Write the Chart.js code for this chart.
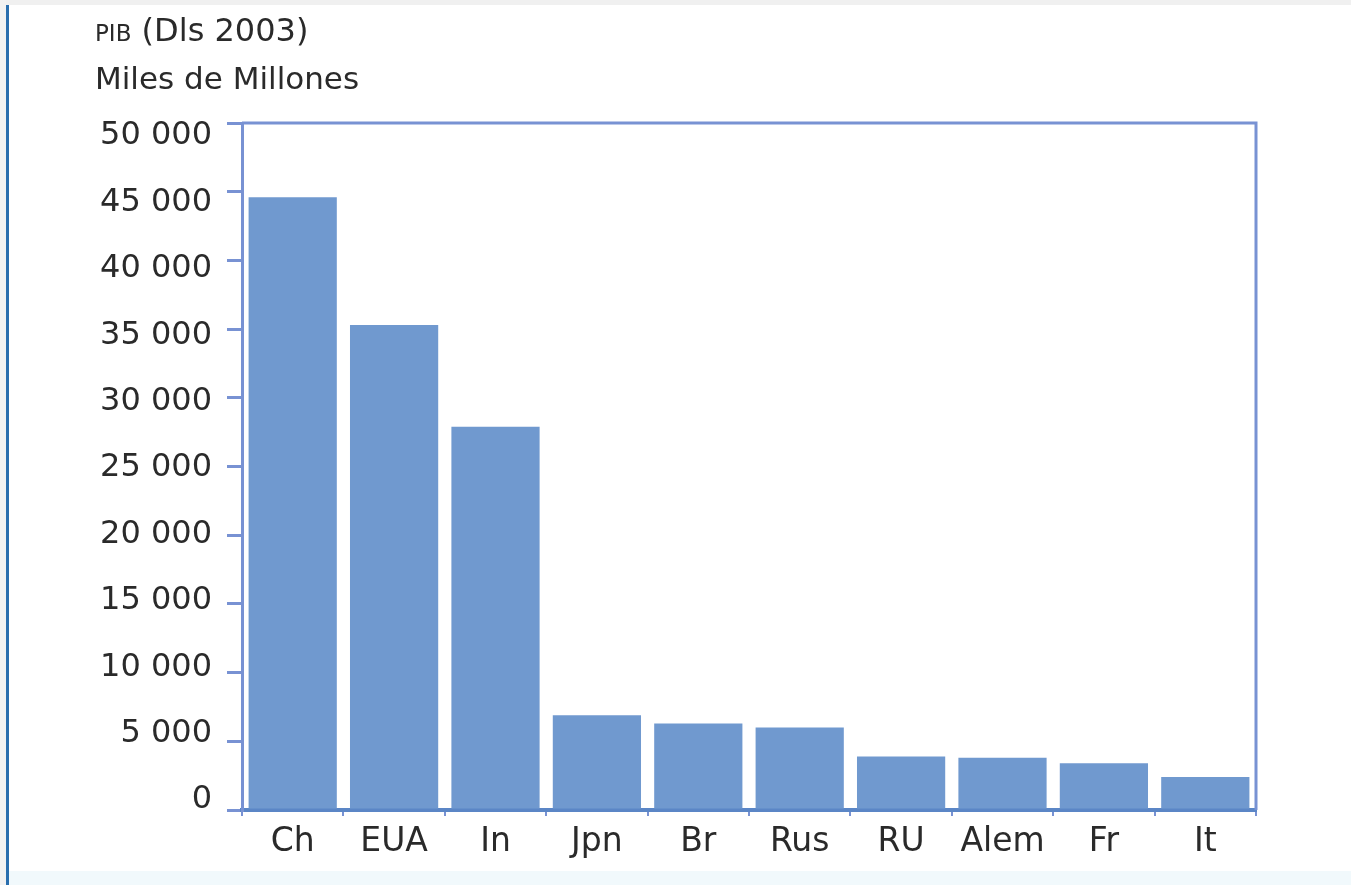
<!DOCTYPE html>
<html>
<head>
<meta charset="utf-8">
<script src="https://cdn.jsdelivr.net/npm/chart.js@4.4.1/dist/chart.umd.min.js"></script>
<style>
  html, body { margin: 0; padding: 0; background: #ffffff; }
  body { width: 1351px; height: 885px; position: relative; overflow: hidden; font-family: "DejaVu Sans", sans-serif; }
  #topband { position: absolute; left: 0; top: 0; width: 1351px; height: 5px; background: #f0f0f0; }
  #leftgray { position: absolute; left: 0; top: 0; width: 6px; height: 885px; background: #f2f2f2; }
  #leftline { position: absolute; left: 6px; top: 5px; width: 3px; height: 880px; background: #2a6eae; }
  #botband { position: absolute; left: 9px; top: 871px; width: 1342px; height: 14px; background: #f1f9fc; }
  #title { position: absolute; left: 95px; top: 8px; font-size: 31px; line-height: 45px; color: #2a2a2a; white-space: nowrap; }
  #title .l1 { font-size: 32px; }
  #title .sc { font-size: 23px; }
  #wrap { position: absolute; left: 0; top: 0; width: 1351px; height: 885px; }
</style>
</head>
<body>
<div id="topband"></div>
<div id="leftgray"></div>
<div id="leftline"></div>
<div id="botband"></div>
<div id="wrap"><canvas id="c" width="1351" height="885"></canvas></div>
<div id="title"><span class="l1"><span class="sc">PIB</span> (Dls 2003)</span><br>Miles de Millones</div>
<script>
// ---- data ----
const categories = ['Ch', 'EUA', 'In', 'Jpn', 'Br', 'Rus', 'RU', 'Alem', 'Fr', 'It'];
const gdpValues = [44600, 35300, 27900, 6900, 6300, 6000, 3900, 3800, 3400, 2400];
const yTickValues = [0, 5000, 10000, 15000, 20000, 25000, 30000, 35000, 40000, 45000, 50000];
const yTickLabels = ['0', '5 000', '10 000', '15 000', '20 000', '25 000', '30 000', '35 000', '40 000', '45 000', '50 000'];

const axisColor = '#7892d3';
const textColor = '#2a2a2a';
const fontFamily = '"DejaVu Sans", sans-serif';

const framePlugin = {
  id: 'frame',
  afterDatasetsDraw(chart) {
    const {ctx, chartArea} = chart;
    ctx.save();
    ctx.strokeStyle = axisColor;
    ctx.lineWidth = 3;
    ctx.beginPath();
    ctx.moveTo(chartArea.left, chartArea.top);
    ctx.lineTo(chartArea.right, chartArea.top);
    ctx.lineTo(chartArea.right, chartArea.bottom);
    ctx.stroke();
    ctx.restore();
  }
};

new Chart(document.getElementById('c'), {
  type: 'bar',
  data: {
    labels: categories,
    datasets: [{
      data: gdpValues,
      backgroundColor: '#7099cf',
      borderWidth: 0,
      barPercentage: 0.87,
      categoryPercentage: 1.0
    }]
  },
  options: {
    responsive: false,
    animation: false,
    events: [],
    layout: { padding: { left: 0, top: 123, right: 95, bottom: 0 } },
    plugins: { legend: { display: false }, tooltip: { enabled: false }, title: { display: false } },
    scales: {
      x: {
        type: 'category',
        position: 'bottom',
        z: 1,
        grid: { display: true, offset: true, drawOnChartArea: false, drawTicks: true, tickLength: 6, color: axisColor, lineWidth: 2 },
        border: { display: true, color: '#5b86c6', width: 4 },
        ticks: { color: textColor, font: { family: fontFamily, size: 33 }, padding: 7, maxRotation: 0, autoSkip: false },
        afterFit(scale) { scale.height = 75; }
      },
      y: {
        type: 'linear',
        position: 'left',
        weight: 0,
        z: 1,
        min: 0,
        max: 50000,
        afterBuildTicks(scale) { scale.ticks = yTickValues.map(v => ({ value: v })); },
        grid: { display: true, drawOnChartArea: false, drawTicks: true, tickLength: 15, color: axisColor, lineWidth: 3 },
        border: { display: true, color: axisColor, width: 3 },
        ticks: { display: false },
        afterFit(scale) { scale.width = 15; }
      },
      yLabels: {
        type: 'linear',
        position: 'left',
        weight: 1,
        min: -753,
        max: 50979,
        afterBuildTicks(scale) { scale.ticks = yTickValues.map(v => ({ value: v })); },
        grid: { display: false },
        border: { display: false },
        ticks: {
          color: textColor,
          font: { family: fontFamily, size: 32 },
          padding: 7,
          callback: (value) => yTickLabels[yTickValues.indexOf(value)]
        },
        afterFit(scale) { scale.width = 227; }
      }
    }
  },
  plugins: [framePlugin]
});
</script>
</body>
</html>
